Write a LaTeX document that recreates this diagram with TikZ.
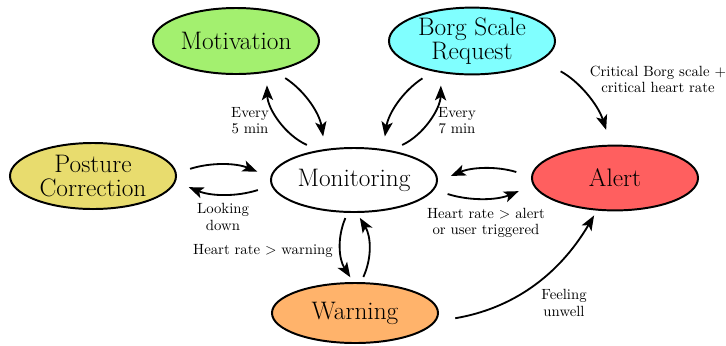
\documentclass[tikz,border=0pt]{standalone}
\usepackage{fontspec}
\usetikzlibrary{arrows.meta,shapes.geometric}
\definecolor{motivcol}{HTML}{A3F06F}
\definecolor{borgcol}{HTML}{80FFFF}
\definecolor{posturecol}{HTML}{E8DC6E}
\definecolor{alertcol}{HTML}{FF5F5F}
\definecolor{warncol}{HTML}{FFB36B}
\tikzset{
  statebox/.style={ellipse, draw=black, line width=1.4pt, minimum width=4.15cm, minimum height=1.65cm, inner sep=0pt, align=center, font=\fontsize{18}{17.5}\selectfont},
  flow/.style={line width=1.3pt, -{Stealth[length=10.5pt,width=8pt,inset=2.5pt]}, shorten <=9pt, shorten >=9pt},
  tag/.style={align=center, inner sep=0pt, font=\fontsize{10.5}{11.5}\selectfont}
}

\begin{document}
\begin{tikzpicture}[x=0.025cm, y=-0.025cm]
			%%%%% START %%%%%
			\useasboundingbox (0, 0) rectangle (726, 345);
			
			\node[statebox, fill=motivcol] (mot) at (236, 41) {Motivation};
			\node[statebox, fill=borgcol] (borg) at (472, 41) {Borg Scale\\Request};
			\node[statebox, fill=posturecol] (post) at (93, 176) {Posture\\Correction};
			\node[statebox, fill=white, minimum height=1.6cm] (mon) at (354, 180) {Monitoring};
			\node[statebox, fill=alertcol, minimum height=1.62cm] (alert) at (615, 178) {Alert};
			\node[statebox, fill=warncol, minimum height=1.5cm] (warn) at (355, 313) {Warning};
			
			\draw[flow] (mon.140) to[bend left=32] (mot.-46);
			\draw[flow] (mot.-38) to[bend left=24] (mon.133);
			\node[tag] (every5) at (250, 121) {Every\\5 min};
			
			\draw[flow] (borg.218) to[bend right=24] (mon.47);
			\draw[flow] (mon.39) to[bend right=32] (borg.226);
			\node[tag] (every7) at (457, 121) {Every\\7 min};
			
			\draw[flow, shorten <=16pt, shorten >=11pt] (borg.-16) to[bend left=22] (alert.97);
			\node[tag] (critical) at (658, 79) {Critical Borg scale +\\critical heart rate};
			
			\draw[flow, shorten <=10pt, shorten >=10pt] (post.2) to[bend left=20] (mon.178);
			\draw[flow, shorten <=10pt, shorten >=10pt] (mon.184) to[bend left=20] (post.-4);
			\node[tag] (looking) at (223, 217) {Looking\\down};
			
			\draw[flow, shorten <=11pt, shorten >=10pt] (alert.179) to[bend right=20] (mon.-1);
			\draw[flow, shorten <=10pt, shorten >=11pt] (mon.-7) to[bend right=20] (alert.185);
			\node[tag] (hralert) at (486, 223) {Heart rate > alert\\or user triggered};
			
			\draw[flow, shorten <=4pt, shorten >=4pt] (mon.259) to[bend right=28] (warn.93);
			\draw[flow, shorten <=4pt, shorten >=4pt] (warn.79) to[bend right=28] (mon.-85);
			\node[tag] (hrwarn) at (263, 251) {Heart rate > warning};
			
			\draw[flow, shorten <=14pt, shorten >=4pt] (warn.-6) to[bend right=25] (alert.241);
			\node[tag] (unwell) at (564, 303) {Feeling\\unwell};
			%%%%% END %%%%%
\end{tikzpicture}
\end{document}
